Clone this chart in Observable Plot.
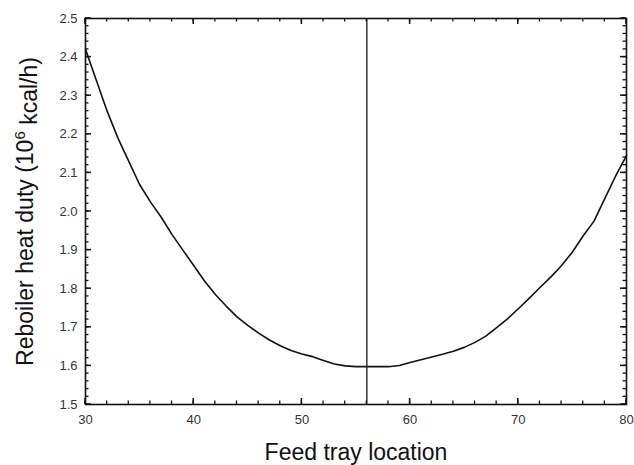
<!DOCTYPE html>
<html>
<head>
<meta charset="utf-8">
<script src="https://cdn.jsdelivr.net/npm/d3@7"></script>
<script src="https://cdn.jsdelivr.net/npm/@observablehq/plot@0.6"></script>
<style>
  html, body { margin: 0; padding: 0; background: #fff; }
  #chart svg { display: block; overflow: visible; }
</style>
</head>
<body>
<div id="chart"></div>
<script>
// Reboiler heat duty versus feed tray location
const trayLocation = [30, 31, 32, 33, 34, 35, 36, 37, 38, 39, 40, 41, 42, 43, 44, 45, 46, 47, 48, 49,
  50, 51, 52, 53, 54, 55, 56, 57, 58, 59, 60, 61, 62, 63, 64, 65, 66, 67, 68, 69,
  70, 71, 72, 73, 74, 75, 76, 77, 78, 79, 80];
const reboilerDuty = [2.42, 2.34, 2.26, 2.19, 2.13, 2.07, 2.025, 1.985, 1.94, 1.90, 1.86, 1.82, 1.785, 1.755, 1.727, 1.705, 1.685, 1.667, 1.652, 1.640,
  1.631, 1.624, 1.614, 1.605, 1.600, 1.598, 1.598, 1.598, 1.598, 1.601, 1.609, 1.616, 1.623, 1.630, 1.638, 1.648, 1.661, 1.677, 1.699, 1.722,
  1.748, 1.775, 1.803, 1.830, 1.860, 1.895, 1.937, 1.975, 2.034, 2.092, 2.145];
const optimalTray = 56;

const xTickValues = [30, 40, 50, 60, 70, 80];
const yTickValues = [1.5, 1.6, 1.7, 1.8, 1.9, 2.0, 2.1, 2.2, 2.3, 2.4, 2.5];
const xMinorValues = d3.range(0, 26).map(i => 30 + i * 2);
const yMinorValues = d3.range(0, 51).map(i => 1.5 + i * 0.02);

const data = trayLocation.map((x, i) => ({x, y: reboilerDuty[i]}));

const font = "'Liberation Sans', Arial, sans-serif";

const chart = Plot.plot({
  width: 634,
  height: 465,
  marginLeft: 85,
  marginRight: 8,
  marginTop: 18,
  marginBottom: 61,
  style: {fontFamily: font, background: "#fff", overflow: "visible"},
  x: {domain: [30, 80]},
  y: {domain: [1.5, 2.5]},
  marks: [
    Plot.axisX({ticks: xTickValues, tickSize: 0, tickPadding: 10, label: null, fontSize: 13, fill: "#333"}),
    Plot.axisY({ticks: yTickValues, tickSize: 0, tickPadding: 8, label: null, fontSize: 13, fill: "#333",
      tickFormat: d3.format(".1f")}),
    Plot.ruleX([optimalTray], {stroke: "#333", strokeWidth: 1.5}),
    Plot.line(data, {x: "x", y: "y", stroke: "#111", strokeWidth: 1.6}),
    Plot.frame({stroke: "#111", strokeWidth: 1.6}),
    Plot.text(["Feed tray location"], {frameAnchor: "bottom", dy: 48, lineAnchor: "middle",
      textAnchor: "middle", fontSize: 23, fill: "#111"}),
    Plot.text(["Reboiler heat duty (10^6 kcal/h)"], {frameAnchor: "left", dx: -60, rotate: -90,
      lineAnchor: "middle", textAnchor: "middle", fontSize: 23, fill: "#111", className: "ytitle"})
  ]
});

// inward tick marks on all four sides of the frame, placed with the plot's scales
const sx = chart.scale("x"), sy = chart.scale("y");
const [xLeft, xRight] = sx.range;
const [yBottom, yTop] = sy.range;
const ticks = d3.select(chart).append("g").attr("stroke", "#111");
function tickSet(values, len, width) {
  for (const v of values) {
    const px = sx.apply(v);
    ticks.append("line").attr("x1", px).attr("x2", px).attr("y1", yBottom).attr("y2", yBottom - len).attr("stroke-width", width);
    ticks.append("line").attr("x1", px).attr("x2", px).attr("y1", yTop).attr("y2", yTop + len).attr("stroke-width", width);
  }
}
function tickSetY(values, len, width) {
  for (const v of values) {
    const py = sy.apply(v);
    ticks.append("line").attr("y1", py).attr("y2", py).attr("x1", xLeft).attr("x2", xLeft + len).attr("stroke-width", width);
    ticks.append("line").attr("y1", py).attr("y2", py).attr("x1", xRight).attr("x2", xRight - len).attr("stroke-width", width);
  }
}
tickSet(xMinorValues, 3.5, 1.3);
tickSet(xTickValues, 6, 1.5);
tickSetY(yMinorValues, 3.5, 1.3);
tickSetY(yTickValues, 6, 1.5);

// superscript exponent in the y-axis title
const ytitle = d3.select(chart).select(".ytitle text");
if (!ytitle.empty()) {
  ytitle.text(null);
  ytitle.append("tspan").text("Reboiler heat duty (10");
  ytitle.append("tspan").attr("font-size", 15).attr("dy", "-0.55em").text("6");
  ytitle.append("tspan").attr("dy", "0.55em").text(" kcal/h)");
}

document.getElementById("chart").appendChild(chart);
</script>
</body>
</html>
